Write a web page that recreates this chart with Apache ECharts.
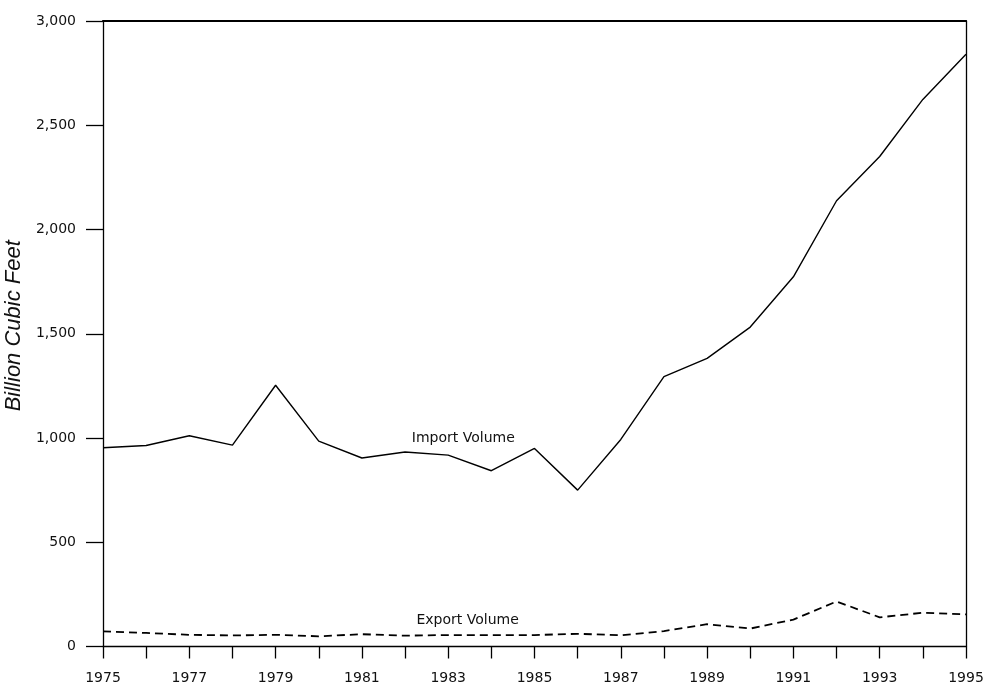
<!DOCTYPE html>
<html>
<head>
<meta charset="utf-8">
<script src="https://cdn.jsdelivr.net/npm/echarts@6/dist/echarts.min.js"></script>
<style>
html,body{margin:0;padding:0;background:#fff;}
#chart{width:985px;height:683px;}
</style>
</head>
<body>
<div id="chart"></div>
<script>
const years = [1975,1976,1977,1978,1979,1980,1981,1982,1983,1984,1985,1986,1987,1988,1989,1990,1991,1992,1993,1994,1995];
const importVolume = [953,964,1011,966,1253,985,904,933,918,843,950,750,993,1294,1382,1532,1773,2138,2350,2624,2841];
const exportVolume = [73,65,56,53,56,49,59,52,55,55,55,61,54,74,107,86,129,216,140,162,154];
const yTicks = [0,500,1000,1500,2000,2500,3000];
const yTitle = 'Billion Cubic Feet';
const importLabel = {text:'Import Volume', at:[1983.35, 1000]};
const exportLabel = {text:'Export Volume', at:[1983.45, 127]};

const font = 'DejaVu Sans';
const txt = '#111';
const chart = echarts.init(document.getElementById('chart'), null, {renderer:'canvas'});

function label(l){
  return {
    symbol:'rect', symbolSize:[1,1],
    itemStyle:{color:'rgba(0,0,0,0)'},
    data:[{coord:l.at, value:l.text}],
    label:{show:true, position:'inside', formatter:l.text, color:txt, fontFamily:font, fontSize:14}
  };
}

chart.setOption({
  animation:false,
  backgroundColor:'#fff',
  grid:{left:103, right:19, top:21, bottom:36.5, outerBoundsMode:'none', containLabel:false},
  xAxis:[{
    type:'value', min:years[0], max:years[years.length-1], interval:1,
    axisLine:{show:true, onZero:false, lineStyle:{color:'#000', width:1.3}},
    axisTick:{show:true, inside:false, length:12, lineStyle:{color:'#000', width:1.3}},
    axisLabel:{margin:25, color:txt, fontFamily:font, fontSize:14, hideOverlap:false,
      formatter:v => (v % 2 === 1 ? String(v) : '')},
    splitLine:{show:false}
  },{
    type:'value', position:'top', min:years[0], max:years[years.length-1],
    axisLine:{show:true, onZero:false, lineStyle:{color:'#000', width:2.2}},
    axisTick:{show:false}, axisLabel:{show:false}, splitLine:{show:false}
  }],
  yAxis:[{
    type:'value', min:yTicks[0], max:yTicks[yTicks.length-1], interval:500,
    name:yTitle, nameLocation:'middle', nameGap:71, nameRotate:90,
    nameTextStyle:{fontFamily:'Liberation Sans', fontStyle:'italic', fontSize:22, color:txt, padding:[0,0,0,16]},
    axisLine:{show:true, onZero:false, lineStyle:{color:'#000', width:1.3}},
    axisTick:{show:true, inside:false, length:17, lineStyle:{color:'#000', width:1.3}},
    axisLabel:{margin:27, color:txt, fontFamily:font, fontSize:14,
      formatter:v => v.toLocaleString('en-US')},
    splitLine:{show:false}
  },{
    type:'value', position:'right', min:0, max:3000,
    axisLine:{show:true, onZero:false, lineStyle:{color:'#000', width:1.3}},
    axisTick:{show:false}, axisLabel:{show:false}, splitLine:{show:false}
  }],
  series:[{
    type:'line', name:'Import Volume',
    data:years.map((y,i)=>[y, importVolume[i]]),
    showSymbol:false, symbol:'none',
    lineStyle:{color:'#000', width:1.4, type:'solid'},
    markPoint:label(importLabel)
  },{
    type:'line', name:'Export Volume',
    data:years.map((y,i)=>[y, exportVolume[i]]),
    showSymbol:false, symbol:'none',
    lineStyle:{color:'#000', width:1.8, type:[8,5]},
    markPoint:label(exportLabel)
  }]
});
</script>
</body>
</html>
